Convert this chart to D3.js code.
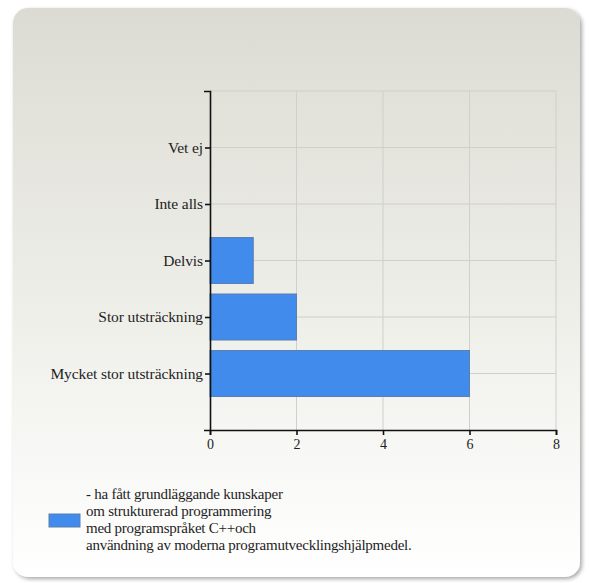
<!DOCTYPE html>
<html>
<head>
<meta charset="utf-8">
<script src="https://cdn.jsdelivr.net/npm/d3@7"></script>
<style>
  html, body { margin: 0; padding: 0; background: #ffffff; }
  svg { display: block; }
  text { font-family: "Liberation Serif", "DejaVu Serif", serif; fill: #1e1e1e; }
</style>
</head>
<body>
<script>
// Response categories, top to bottom
const categories = ["Vet ej", "Inte alls", "Delvis", "Stor utsträckning", "Mycket stor utsträckning"];
// Number of answers per category
const counts = [0, 0, 1, 2, 6];
// Axis ticks along the count axis
const xTicks = [0, 2, 4, 6, 8];
// Legend text, one entry per line
const legendLines = [
  "- ha fått grundläggande kunskaper",
  "om strukturerad programmering",
  "med programspråket C++och",
  "användning av moderna programutvecklingshjälpmedel."
];

const W = 589, H = 583;
const svg = d3.select("body").append("svg").attr("width", W).attr("height", H);
const defs = svg.append("defs");

const grad = defs.append("linearGradient").attr("id", "bg").attr("x1", 0).attr("y1", 0).attr("x2", 0).attr("y2", 1);
grad.append("stop").attr("offset", "0%").attr("stop-color", "#dcdbd3");
grad.append("stop").attr("offset", "55%").attr("stop-color", "#efefea");
grad.append("stop").attr("offset", "100%").attr("stop-color", "#ffffff");

const shadow = defs.append("filter").attr("id", "shadow").attr("x", "-5%").attr("y", "-5%").attr("width", "110%").attr("height", "110%");
shadow.append("feGaussianBlur").attr("in", "SourceAlpha").attr("stdDeviation", 2);
shadow.append("feOffset").attr("dx", 2).attr("dy", 2).attr("result", "b");
shadow.append("feComponentTransfer").append("feFuncA").attr("type", "linear").attr("slope", 0.35);
const merge = shadow.append("feMerge");
merge.append("feMergeNode");
merge.append("feMergeNode").attr("in", "SourceGraphic");

// Rounded panel
svg.append("rect")
  .attr("x", 13).attr("y", 8).attr("width", 567).attr("height", 569)
  .attr("rx", 15).attr("ry", 15)
  .attr("fill", "url(#bg)")
  .attr("filter", "url(#shadow)");

const plot = { left: 210, right: 556, top: 91, bottom: 430 };

const x = d3.scaleLinear().domain([0, 8]).range([plot.left, plot.right]);
const y = d3.scalePoint().domain(categories).range([plot.top, plot.bottom]).padding(1);
const barH = 46;

const g = svg.append("g");

// Gridlines
g.selectAll("line.vgrid").data(xTicks.filter(d => d > 0)).join("line")
  .attr("x1", d => x(d)).attr("x2", d => x(d))
  .attr("y1", plot.top).attr("y2", plot.bottom)
  .attr("stroke", "#cfcfcb").attr("stroke-width", 1);
g.selectAll("line.hgrid").data([null, ...categories]).join("line")
  .attr("x1", plot.left).attr("x2", plot.right)
  .attr("y1", d => d === null ? plot.top : y(d))
  .attr("y2", d => d === null ? plot.top : y(d))
  .attr("stroke", "#cfcfcb").attr("stroke-width", 1);

// Bars
g.selectAll("rect.bar").data(categories.map((c, i) => ({ c, v: counts[i] })).filter(d => d.v > 0)).join("rect")
  .attr("x", x(0))
  .attr("y", d => y(d.c) - barH / 2)
  .attr("width", d => x(d.v) - x(0))
  .attr("height", barH)
  .attr("fill", "#418bec")
  .attr("stroke", "#5b7fae")
  .attr("stroke-width", 1);

// Axes
const yAxis = d3.axisLeft(y).tickSize(5).tickSizeOuter(6).tickPadding(2);
const ya = svg.append("g").attr("transform", `translate(${plot.left},0)`).call(yAxis);
const xAxis = d3.axisBottom(x).tickValues(xTicks).tickSize(5).tickSizeOuter(5).tickPadding(4);
const xa = svg.append("g").attr("transform", `translate(0,${plot.bottom})`).call(xAxis);

[ya, xa].forEach(a => {
  a.select(".domain").attr("stroke", "#111").attr("stroke-width", 1.6);
  a.selectAll(".tick line").attr("stroke", "#111").attr("stroke-width", 1.6);
  a.selectAll(".tick text").attr("font-family", "Liberation Serif, DejaVu Serif, serif")
    .attr("fill", "#1e1e1e");
});
ya.selectAll(".tick text").attr("font-size", 15.5).attr("letter-spacing", -0.1);
xa.selectAll(".tick text").attr("font-size", 14);

// Legend
const lg = svg.append("g");
lg.append("rect").attr("x", 49).attr("y", 514).attr("width", 31).attr("height", 13)
  .attr("fill", "#418bec").attr("stroke", "#5b7fae").attr("stroke-width", 1);
lg.selectAll("text").data(legendLines).join("text")
  .attr("x", 86)
  .attr("y", (d, i) => 499 + i * 17)
  .attr("font-size", 15)
  .attr("letter-spacing", -0.25)
  .text(d => d);
</script>
</body>
</html>
